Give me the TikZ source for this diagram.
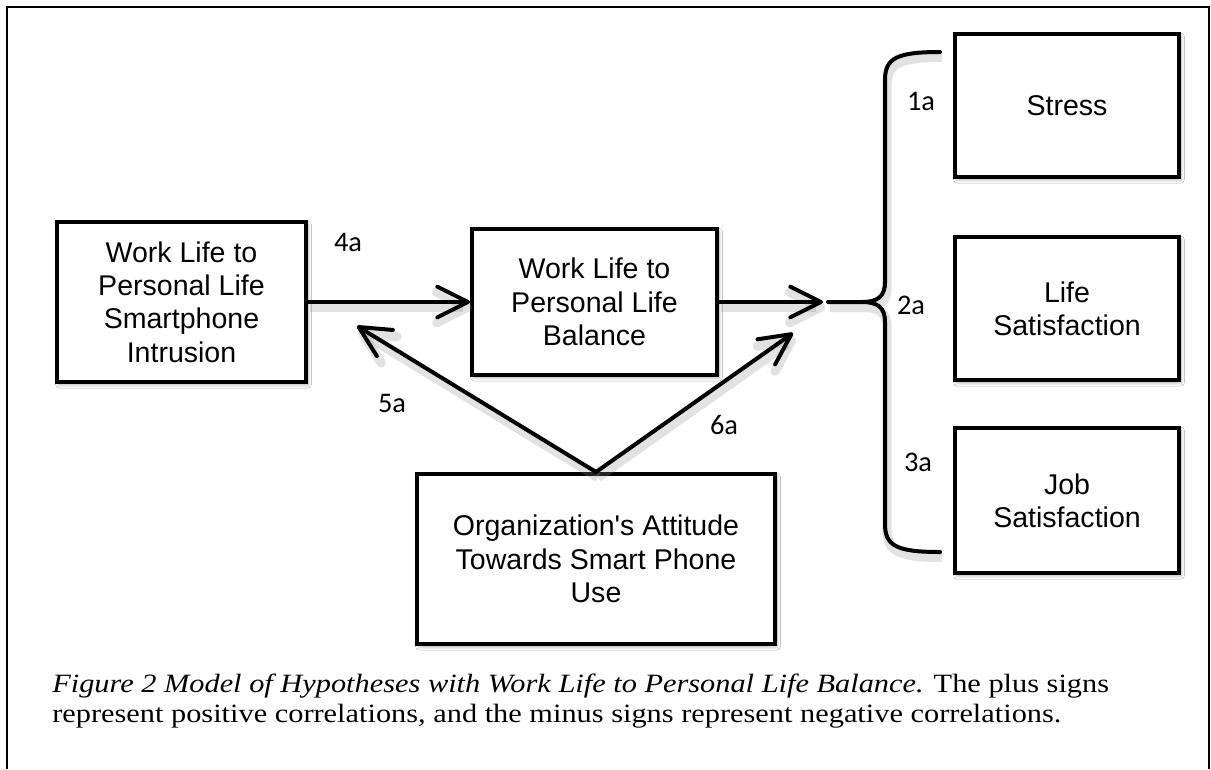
\documentclass[tikz,border=0pt]{standalone}
\usepackage{fontspec}
\setmainfont{Liberation Serif}
\newfontfamily\boxfont{Liberation Sans}
\newfontfamily\labelfont{Carlito}
\newfontfamily\capfont[FakeStretch=1.15]{Liberation Serif}
\usetikzlibrary{arrows.meta,shadows.blur}

\begin{document}
\begin{tikzpicture}[x=0.75pt,y=-0.75pt,
  diagbox/.style={draw=black, line width=3pt, fill=white, align=center, inner sep=0pt,
    font=\boxfont\fontsize{21.4pt}{25pt}\selectfont,
    blur shadow={shadow xshift=1.5pt, shadow yshift=-2pt, shadow blur radius=2.5pt, shadow opacity=35}},
  shadowed/.style={preaction={draw=black!45, opacity=0.25, line width=7pt,
    transform canvas={shift={(1.5pt,-4pt)}}}},
  link/.style={line width=3pt, line cap=round,
    -{Straight Barb[length=23pt,width=23pt,round]}, shadowed},
  tag/.style={font=\labelfont\fontsize{21.3pt}{25pt}\selectfont, inner sep=0pt},
]
\useasboundingbox (0,0) rectangle (1211,769);
\fill[white] (0,0) rectangle (1211,769);

% outer frame, open at the bottom
\draw[line width=1pt] (7,769) -- (7,7) -- (1209,7) -- (1209,769);

% boxes
\node[diagbox, minimum width=186.75pt, minimum height=120pt] (intr) at (181.5,302)
  {Work Life to\\Personal Life\\Smartphone\\Intrusion};
\node[diagbox, minimum width=183.75pt, minimum height=109.5pt] (bal) at (594.5,302)
  {Work Life to\\Personal Life\\Balance};
\node[diagbox, minimum width=268.5pt, minimum height=127.5pt] (org) at (596,559)
  {Organization's Attitude\\Towards Smart Phone\\Use};
\node[diagbox, minimum width=168pt, minimum height=107.25pt] (stress) at (1067,105.5)
  {Stress};
\node[diagbox, minimum width=168pt, minimum height=107.25pt] (life) at (1067,308.5)
  {Life\\Satisfaction};
\node[diagbox, minimum width=168pt, minimum height=108.75pt] (job) at (1067,500.5)
  {Job\\Satisfaction};

% connector end points
\coordinate (btip) at (828,302);
\coordinate (bend) at (823,302);
\coordinate (t5) at (357,326);
\coordinate (t6) at (793,333);

% connectors
\draw[link] (intr.east) -- (bal.west);
\draw[link] (bal.east) -- (bend);
\draw[link] (org.north) -- (t5);
\draw[link] (org.north) -- (t6);

% brace towards the three outcomes
\draw[line width=3pt, line cap=round, line join=round, shadowed]
  (940,52) .. controls (897,52) and (885,58) .. (885,80) -- (885,282)
  .. controls (885,297) and (877,302) .. (862,302) -- (btip) -- (862,302)
  .. controls (877,302) and (885,307) .. (885,322) -- (885,524)
  .. controls (885,546) and (897,552) .. (940,552);

% hypothesis labels
\node[tag] (l1) at (921,101) {1a};
\node[tag] (l2) at (911,305) {2a};
\node[tag] (l3) at (918,462) {3a};
\node[tag] (l4) at (348,242) {4a};
\node[tag] (l5) at (392,403) {5a};
\node[tag] (l6) at (724,425) {6a};

% caption (anchored on the baseline of its last line)
\node[anchor=base west, inner sep=0pt, align=left,
  font=\capfont\fontsize{19.8pt}{22.5pt}\selectfont] (cap) at (52,722)
  {\textit{Figure 2 Model of Hypotheses with Work Life to Personal Life Balance.} The plus signs\\
   represent positive correlations, and the minus signs represent negative correlations.};
\end{tikzpicture}
\end{document}
